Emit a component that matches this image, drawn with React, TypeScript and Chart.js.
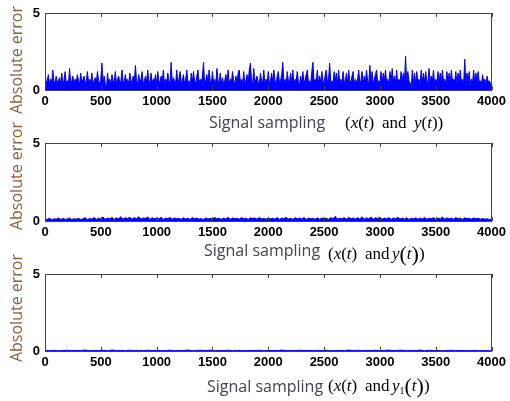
import React, { useEffect, useRef } from "react";
import { Chart, registerables } from "chart.js";
Chart.register(...registerables);

const xTickValues = [0, 500, 1000, 1500, 2000, 2500, 3000, 3500, 4000];
const yTickValues = [0, 5];
const yTitle = "Absolute error";
const xTitle = "Signal sampling";

// Panel 1: |x(t) - y(t)|, one value every 10 samples
const step1 = 10;
const errorXY = [
  1.2,0.5,0.6,1.0,0.4,0.7,0.5,1.3,0.6,0.4,0.9,0.5,0.6,0.8,0.4,1.1,0.5,0.6,1.2,0.5,
  0.6,0.4,1.4,0.5,0.6,0.9,0.4,0.7,0.5,1.0,0.6,0.4,1.1,0.5,0.7,0.9,0.4,0.6,1.2,0.5,
  0.7,0.5,1.1,0.4,0.6,0.8,0.5,1.2,0.6,0.4,0.7,1.75,0.5,0.9,0.4,0.0,1.1,0.5,0.7,0.4,
  1.0,0.6,0.5,1.2,0.4,0.7,0.9,0.5,0.6,1.3,0.4,0.6,1.0,0.5,0.7,0.4,1.1,0.6,0.5,0.9,
  0.5,1.6,0.6,0.4,1.0,0.5,0.7,1.2,0.4,0.6,0.9,0.5,1.3,0.6,0.4,1.1,0.5,0.7,0.6,1.0,
  0.4,1.2,0.6,0.5,0.9,0.6,1.3,0.4,0.7,0.5,1.1,0.6,0.4,1.8,0.5,0.8,0.6,0.4,1.3,0.5,
  0.7,1.2,0.5,0.6,1.0,0.4,0.7,1.3,0.5,0.6,0.2,1.1,0.5,1.2,0.6,0.4,0.9,1.3,0.5,0.7,
  0.5,0.9,1.8,0.4,0.6,1.0,0.5,1.3,0.6,0.4,1.2,0.5,0.7,0.4,1.4,0.6,0.5,1.1,0.4,0.8,
  0.4,0.6,1.0,0.5,1.3,0.4,0.7,0.5,1.2,0.6,0.4,0.9,0.5,1.1,1.3,0.5,0.7,0.4,1.2,0.5,
  0.6,1.0,0.5,1.3,1.75,0.6,0.4,1.4,0.5,0.7,0.9,0.5,0.4,1.1,0.6,0.5,1.3,0.4,0.7,0.5,
  1.2,0.4,0.6,1.1,0.5,1.3,0.6,0.4,0.9,1.2,0.5,0.6,1.0,1.8,0.5,0.7,0.4,1.2,0.6,0.5,
  1.1,0.5,1.3,0.4,0.7,0.6,1.2,0.5,0.3,0.9,0.5,1.2,0.4,0.7,1.0,1.3,0.5,0.6,0.4,1.2,
  1.8,0.5,0.7,0.6,1.3,0.4,0.9,0.5,1.2,0.6,0.4,1.0,1.3,0.5,0.7,1.75,0.5,0.6,0.4,1.2,
  0.6,1.1,0.4,1.3,0.5,0.7,0.4,1.2,0.6,0.5,1.1,0.4,1.3,0.6,0.5,0.9,1.2,0.4,0.7,0.5,
  0.7,1.3,0.5,0.6,1.2,0.4,0.9,0.5,1.3,0.6,0.4,1.6,0.5,1.2,0.4,0.7,1.0,1.3,0.5,0.6,
  0.5,1.2,0.4,1.1,0.6,1.3,0.5,0.7,0.4,1.2,0.5,1.4,0.6,0.9,0.5,1.3,0.4,0.7,0.5,1.2,
  0.6,1.1,0.5,2.2,0.4,1.2,0.6,0.5,0.0,1.3,0.5,1.1,0.4,1.2,0.6,0.7,0.4,1.3,0.5,1.1,
  0.5,1.2,0.6,0.4,1.4,0.5,0.9,0.6,1.3,0.4,0.7,0.5,1.2,0.4,1.1,0.6,1.3,0.5,0.7,0.4,
  1.2,0.5,1.1,0.4,1.3,0.6,0.7,0.5,1.2,0.4,1.1,0.6,1.3,0.5,0.7,0.4,2.0,0.5,1.1,0.6,
  1.2,0.4,0.7,0.5,1.3,0.4,1.1,0.6,1.2,0.5,0.6,0.4,1.0,0.5,0.7,0.4,0.9,0.5,0.6,0.4,
  0.5,
];

// Panel 2: one value every 20 samples
const step2 = 20;
const errorXY2 = [
  0.15,0.10,0.18,0.08,0.14,0.12,0.20,0.09,0.16,0.11,0.13,0.19,0.08,0.15,0.12,0.17,0.10,0.14,0.21,0.09,
  0.16,0.12,0.22,0.10,0.18,0.13,0.25,0.11,0.19,0.14,0.23,0.10,0.20,0.15,0.28,0.12,0.21,0.16,0.24,0.11,
  0.22,0.14,0.27,0.12,0.20,0.17,0.25,0.11,0.21,0.15,0.19,0.13,0.24,0.10,0.18,0.16,0.22,0.12,0.20,0.14,
  0.17,0.11,0.21,0.13,0.18,0.10,0.23,0.14,0.19,0.12,0.16,0.09,0.20,0.13,0.17,0.11,0.22,0.15,0.18,0.10,
  0.19,0.13,0.24,0.11,0.20,0.15,0.17,0.12,0.22,0.14,0.18,0.10,0.21,0.16,0.19,0.12,0.23,0.13,0.17,0.11,
  0.20,0.14,0.18,0.12,0.22,0.10,0.19,0.15,0.24,0.13,0.17,0.11,0.21,0.14,0.19,0.12,0.23,0.10,0.18,0.15,
  0.16,0.12,0.21,0.10,0.19,0.14,0.17,0.11,0.22,0.13,0.30,0.12,0.18,0.15,0.21,0.11,0.24,0.14,0.19,0.12,
  0.22,0.13,0.27,0.12,0.20,0.15,0.25,0.11,0.21,0.16,0.23,0.12,0.19,0.14,0.22,0.10,0.20,0.15,0.24,0.13,
  0.18,0.12,0.21,0.10,0.17,0.14,0.20,0.11,0.19,0.13,0.23,0.12,0.18,0.15,0.21,0.11,0.19,0.13,0.25,0.12,
  0.20,0.14,0.18,0.11,0.22,0.13,0.19,0.10,0.21,0.15,0.17,0.12,0.20,0.14,0.18,0.11,0.16,0.12,0.14,0.10,
  0.12,
];

// Panel 3: one value every 40 samples
const step3 = 40;
const errorXY1 = [
  0.03,0.02,0.04,0.02,0.03,0.05,0.02,0.04,0.03,0.06,0.02,0.04,0.03,0.05,0.02,0.06,0.03,0.04,0.02,0.05,
  0.03,0.04,0.02,0.05,0.03,0.04,0.02,0.03,0.05,0.02,0.04,0.03,0.06,0.02,0.04,0.05,0.03,0.06,0.02,0.04,
  0.03,0.05,0.02,0.04,0.03,0.02,0.04,0.03,0.05,0.02,0.03,0.04,0.02,0.06,0.03,0.04,0.02,0.05,0.03,0.04,
  0.02,0.04,0.03,0.05,0.02,0.03,0.04,0.02,0.06,0.03,0.05,0.02,0.04,0.03,0.05,0.02,0.04,0.06,0.03,0.04,
  0.05,0.02,0.04,0.03,0.06,0.02,0.05,0.03,0.04,0.02,0.03,0.05,0.02,0.04,0.03,0.02,0.04,0.02,0.03,0.02,
  0.02,
];

type Seg = { t: string; it?: boolean; size?: number; dy?: number };
type Group = { x: number; segs: Seg[] };

const math1: Group[] = [
  { x: 345, segs: [{ t: "(" }, { t: "x", it: true }, { t: "(" }, { t: "t", it: true }, { t: ")" }] },
  { x: 382, segs: [{ t: "and" }] },
  { x: 414, segs: [{ t: "y", it: true }, { t: "(" }, { t: "t", it: true }, { t: "))" }] },
];
const math2: Group[] = [
  { x: 328, segs: [{ t: "(" }, { t: "x", it: true }, { t: "(" }, { t: "t", it: true }, { t: ")" }] },
  { x: 365, segs: [{ t: "and" }] },
  { x: 392, segs: [{ t: "y", it: true }, { t: "(", size: 22, dy: 2 }, { t: "t", it: true }, { t: ")", size: 22, dy: 2 }, { t: ")" }] },
];
const math3: Group[] = [
  { x: 328, segs: [{ t: "(" }, { t: "x", it: true }, { t: "(" }, { t: "t", it: true }, { t: ")" }] },
  { x: 365, segs: [{ t: "and" }] },
  { x: 392, segs: [{ t: "y", it: true }, { t: "1", size: 10, dy: 3 }, { t: "(", size: 22, dy: 2 }, { t: "t", it: true }, { t: ")", size: 22, dy: 2 }, { t: ")" }] },
];

type PanelCfg = {
  values: number[];
  step: number;
  plotTop: number;
  plotBottom: number;
  yTitleY: number;
  sigX: number;
  sigY: number;
  mathY: number;
  math: Group[];
};

const panels: PanelCfg[] = [
  { values: errorXY, step: step1, plotTop: 13, plotBottom: 90, yTitleY: 60, sigX: 209, sigY: 123, mathY: 128, math: math1 },
  { values: errorXY2, step: step2, plotTop: 143, plotBottom: 221, yTitleY: 176, sigX: 204, sigY: 251, mathY: 259, math: math2 },
  { values: errorXY1, step: step3, plotTop: 274, plotBottom: 351, yTitleY: 308, sigX: 207, sigY: 387, mathY: 391, math: math3 },
];

const W = 510;
const H = 401;
const PLOT_LEFT = 45;
const PLOT_RIGHT = 495;

function Panel({ cfg }: { cfg: PanelCfg }) {
  const ref = useRef<HTMLCanvasElement | null>(null);
  useEffect(() => {
    if (!ref.current) return;
    const decor = {
      id: "decor",
      afterDraw(chart: any) {
        const ctx = chart.ctx as CanvasRenderingContext2D;
        const a = chart.chartArea;
        const xs = chart.scales.x;
        const ys = chart.scales.y;
        ctx.save();
        ctx.strokeStyle = "#444";
        ctx.lineWidth = 1;
        ctx.strokeRect(Math.round(a.left) + 0.5, Math.round(a.top) + 0.5, Math.round(a.right - a.left) - 1, Math.round(a.bottom - a.top));
        ctx.beginPath();
        for (const v of xTickValues) {
          const px = Math.round(xs.getPixelForValue(v)) + 0.5;
          ctx.moveTo(px, a.top);
          ctx.lineTo(px, a.top + 4);
          ctx.moveTo(px, a.bottom);
          ctx.lineTo(px, a.bottom - 4);
        }
        for (const v of yTickValues) {
          const py = Math.round(ys.getPixelForValue(v)) + 0.5;
          ctx.moveTo(a.left, py);
          ctx.lineTo(a.left + 4, py);
          ctx.moveTo(a.right, py);
          ctx.lineTo(a.right - 4, py);
        }
        ctx.stroke();
        // y title
        ctx.save();
        ctx.translate(17.5, cfg.yTitleY);
        ctx.rotate(-Math.PI / 2);
        ctx.fillStyle = "#8c6239";
        ctx.font = "16px 'Open Sans'";
        ctx.textAlign = "center";
        ctx.textBaseline = "middle";
        ctx.fillText(yTitle, 0, 0);
        ctx.restore();
        // x title
        ctx.fillStyle = "#3d4452";
        ctx.font = "16px 'Open Sans'";
        ctx.textAlign = "left";
        ctx.textBaseline = "middle";
        ctx.fillText(xTitle, cfg.sigX, cfg.sigY);
        // math part
        ctx.fillStyle = "#000";
        ctx.textBaseline = "alphabetic";
        for (const g of cfg.math) {
          let x = g.x;
          for (const s of g.segs) {
            const size = s.size ?? 17;
            ctx.font = `${s.it ? "italic " : ""}${size}px 'Liberation Serif'`;
            ctx.fillText(s.t, x, cfg.mathY + (s.dy ?? 0));
            x += ctx.measureText(s.t).width;
          }
        }
        ctx.restore();
      },
    };
    const tickFont = { family: "'Liberation Sans', Arial", size: 13, weight: "bold" };
    const chart = new Chart(ref.current, {
      type: "line",
      data: {
        datasets: [
          {
            data: cfg.values.map((v, i) => ({ x: i * cfg.step, y: v })),
            borderColor: "#0000ff",
            backgroundColor: "#0000ff",
            borderWidth: 1,
            pointRadius: 0,
            fill: "origin",
            tension: 0,
          },
        ],
      },
      options: {
        responsive: false,
        animation: false,
        events: [],
        layout: { padding: { left: 0, right: W - PLOT_RIGHT, top: cfg.plotTop, bottom: 0 } },
        plugins: { legend: { display: false }, tooltip: { enabled: false }, title: { display: false } },
        scales: {
          x: {
            type: "linear",
            min: 0,
            max: 4000,
            grid: { display: false, drawTicks: false },
            border: { display: false },
            afterBuildTicks: (s: any) => {
              s.ticks = xTickValues.map((v) => ({ value: v }));
            },
            afterFit: (s: any) => {
              s.height = H - cfg.plotBottom;
            },
            ticks: {
              padding: 4,
              maxRotation: 0,
              autoSkip: false,
              color: "#000",
              font: tickFont,
              callback: (v: any) => String(v),
            },
          },
          y: {
            type: "linear",
            min: 0,
            max: 5,
            grid: { display: false, drawTicks: false },
            border: { display: false },
            afterBuildTicks: (s: any) => {
              s.ticks = yTickValues.map((v) => ({ value: v }));
            },
            afterFit: (s: any) => {
              s.width = PLOT_LEFT;
            },
            ticks: {
              padding: 5,
              color: "#000",
              font: tickFont,
              callback: (v: any) => String(v),
            },
          },
        },
      },
      plugins: [decor],
    } as any);
    return () => chart.destroy();
  }, [cfg]);
  return (
    <canvas
      ref={ref}
      width={W}
      height={H}
      style={{ position: "absolute", left: 0, top: 0, width: W, height: H }}
    />
  );
}

export default function App() {
  return (
    <div style={{ position: "fixed", left: 0, top: 0, width: W, height: H, background: "#fff" }}>
      {panels.map((p, i) => (
        <Panel key={i} cfg={p} />
      ))}
    </div>
  );
}
